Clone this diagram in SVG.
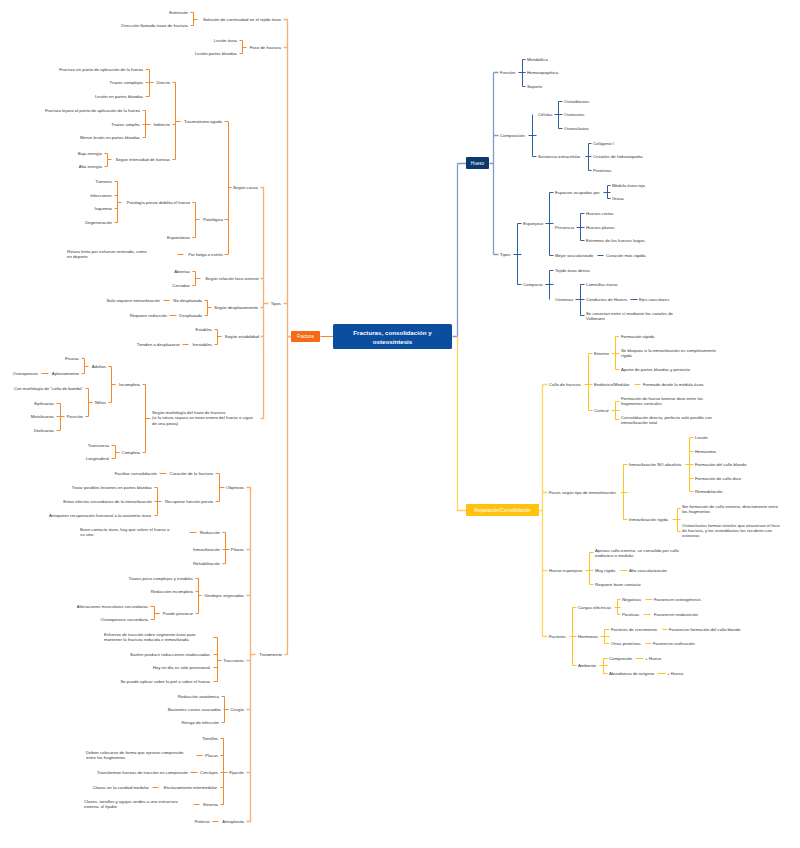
<svg xmlns="http://www.w3.org/2000/svg" width="800" height="848" viewBox="0 0 800 848">
<style>
.t{font-family:"Liberation Sans",Arial,sans-serif;font-size:4.3px;fill:#333}
.e{text-anchor:end}
.w{font-family:"Liberation Sans",Arial,sans-serif;fill:#fff;text-anchor:middle}
.o{stroke:#F7882A;fill:none;stroke-width:1}
.b{stroke:#2F5F9E;fill:none;stroke-width:1}
.y{stroke:#FFC21F;fill:none;stroke-width:1}
.o2{stroke:#F9AE72;fill:none;stroke-width:1.3}
.b2{stroke:#7F9DC8;fill:none;stroke-width:1.3}
.y2{stroke:#FFD35E;fill:none;stroke-width:1.3}
</style>
<rect width="800" height="848" fill="#fff"/>
<g id="connectors" transform="translate(0.5,0.5)">
<path class="o2" d="M287,19V654 M283,19H287 M283,47H287 M283,303H287 M284,654H287 M287,336H291
M260,187H263V418H260 M260,278H263 M260,307H263 M260,336H263 M263,303H268
M246,487H250V821H246 M246,549H250 M246,595H250 M246,660H250 M246,709H250 M246,772H250 M250,654H255"/>
<path class="o" d="M320,336H333
M190,12H193V25H190 M193,19H197
M239,40H242V53H239 M242,47H246
M145,69H149V96H145 M145,82H149 M149,82H153
M142,110H145V137H142 M142,124H150
M104,153H107V166H104 M107,159H111
M172,82H175V159H172 M172,124H175 M175,121H180
M114,181H117V222H114 M114,195H117 M114,208H117 M117,202H121
M192,202H195V237H192 M195,219H199
M177,254H183
M224,121H228V254H224 M224,219H228 M228,187H231
M192,271H195V285H192 M195,278H200
M163,300H169 M169,315H176
M204,300H207V315H204 M207,307H211
M182,344H188
M214,329H217V344H214 M217,336H221
M41,373H48
M81,358H84V373H81 M84,366H88
M56,403H60V430H56 M56,416H64
M85,388H88V416H85 M88,402H92
M108,366H111V402H108 M111,384H115
M111,445H115V458H111 M115,452H119
M142,384H145V452H142 M145,418H150
M159,473H166
M154,487H157V515H154 M154,501H161
M215,473H219V501H215 M219,487H224
M189,532H196
M222,532H225V563H222 M222,549H229
M150,606H154V619H150 M154,613H159
M195,578H198V613H195 M195,591H198 M198,595H201
M213,637H217V681H213 M213,654H217 M213,667H217 M217,660H221
M221,696H224V722H221 M223,709H228
M196,755H202 M190,772H197 M152,787H158 M193,804H199
M220,738H223V804H220 M220,755H223 M220,772H227 M220,787H223
M212,821H218"/>
<path class="b2" d="M452,336H457 M457,163V336 M457,163H466
M489,163H493 M493,72V254 M493,72H498 M493,135H498 M493,254H498"/>
<path class="b" d="M518,72H525 M522,59V86 M522,59H525 M522,86H525
M528,135H536 M532,114V156 M532,156H536
M554,114H562 M558,101V128 M558,101H562 M558,128H562
M585,156H591 M588,143V170 M588,143H591 M588,170H591
M513,254H521 M517,223V284 M517,223H521 M517,284H521
M545,223H553 M549,192V255 M549,192H553 M549,255H553
M603,192H610 M607,185V198 M607,185H610 M607,198H610
M576,227H584 M580,213V240 M580,213H584 M580,240H584
M597,255H603
M545,284H553 M549,270V299 M549,270H553
M575,299H584 M580,284V315 M580,284H584 M580,315H584
M630,299H637"/>
<path class="y2" d="M457,336V510H466
M539,510H542 M542,384V636 M542,384H547 M542,492H547 M542,570H547 M542,636H547"/>
<path class="y" d="M584,384H592 M588,353V410 M588,353H592 M588,410H592
M611,353H619 M615,336V369 M615,336H619 M615,369H619
M634,384H640
M611,410H619 M615,401V419 M615,401H619 M615,419H619
M620,492H627 M623,464V519 M623,464H627 M623,519H627
M685,464H693 M689,437V491 M689,437H693 M689,451H693 M689,478H693 M689,491H693
M672,519H680 M677,508V531 M677,508H680 M677,531H680
M585,570H593 M589,552V584 M589,552H593 M589,584H593
M620,570H627
M569,636H576 M572,607V665 M572,607H576 M572,665H576
M614,607H620 M617,599V614 M617,599H620 M617,614H620
M645,599H652 M643,614H650
M600,636H609 M604,629V643 M604,629H609 M604,643H609
M662,629H667 M645,643H651
M599,665H607 M603,658V673 M603,658H607 M603,673H607
M635,658H643 M657,673H665"/>
</g>
<g id="root"><rect x="333" y="324" width="119" height="25" rx="1.5" fill="#0B4EA0"/><text class="w" x="392.5" y="335" font-size="6.2" font-weight="bold">Fracturas, consolidación y</text><text class="w" x="392.5" y="343.5" font-size="6.2" font-weight="bold">osteosíntesis</text></g>
<g id="fractura"><rect x="291" y="331" width="29" height="11" rx="1" fill="#F56A12"/><text class="w" x="305.5" y="338" font-size="4.5">Fractura</text></g>
<g id="hueso"><rect x="466" y="157" width="23" height="12" rx="1" fill="#0C3A70"/><text class="w" x="477.5" y="164.6" font-size="4.6">Hueso</text></g>
<g id="reparacion"><rect x="466" y="504" width="73" height="12" rx="1" fill="#FFC20E"/><text class="w" x="502.5" y="511.7" font-size="4.8">Reparación/Consolidación</text></g>
<g id="f1"><text class="t e" x="188" y="13.5">Extensión</text></g>
<g id="f2"><text class="t e" x="188" y="26.5">Dirección llamada trazo de fractura</text></g>
<g id="f3"><text class="t e" x="281" y="20.5">Solución de continuidad en el tejido óseo</text></g>
<g id="f4"><text class="t e" x="237" y="41.5">Lesión ósea</text></g>
<g id="f5"><text class="t e" x="237" y="54.5">Lesión partes blandas</text></g>
<g id="f6"><text class="t e" x="281" y="48.5">Foco de fractura</text></g>
<g id="f7"><text class="t e" x="143" y="70.5">Fractura en punto de aplicación de la fuerza</text></g>
<g id="f8"><text class="t e" x="143" y="83.5">Trazos complejos</text></g>
<g id="f9"><text class="t e" x="143" y="97.5">Lesión en partes blandas</text></g>
<g id="f10"><text class="t e" x="170" y="83.5">Directo</text></g>
<g id="f11"><text class="t e" x="140" y="111.5">Fractura lejano al punto de aplicación de la fuerza</text></g>
<g id="f12"><text class="t e" x="140" y="125.5">Trazos simples</text></g>
<g id="f13"><text class="t e" x="140" y="138.5">Menor lesión en partes blandas</text></g>
<g id="f14"><text class="t e" x="170" y="125.5">Indirecto</text></g>
<g id="f15"><text class="t e" x="102" y="154.5">Baja energía</text></g>
<g id="f16"><text class="t e" x="102" y="167.5">Alta energía</text></g>
<g id="f17"><text class="t e" x="170" y="160.5">Según intensidad de fuerzas</text></g>
<g id="f18"><text class="t e" x="222" y="122.5">Traumatismo agudo</text></g>
<g id="f19"><text class="t e" x="112" y="182.5">Tumores</text></g>
<g id="f20"><text class="t e" x="112" y="196.5">Infecciones</text></g>
<g id="f21"><text class="t e" x="112" y="209.5">Isquemia</text></g>
<g id="f22"><text class="t e" x="112" y="223.5">Degeneración</text></g>
<g id="f23"><text class="t e" x="190" y="203.5">Patología previa debilita el hueso</text></g>
<g id="f24"><text class="t e" x="190" y="238.5">Espontánea</text></g>
<g id="f25"><text class="t e" x="223" y="220.5">Patológica</text></g>
<g id="f26"><text class="t" x="67" y="252.5"><tspan x="67">Rotura lenta por esfuerzo reiterado, como</tspan><tspan x="67" dy="5.3">en deporte</tspan></text></g>
<g id="f27"><text class="t e" x="223" y="255.5">Por fatiga o estrés</text></g>
<g id="f28"><text class="t e" x="258" y="188.5">Según causa</text></g>
<g id="f29"><text class="t e" x="190" y="272.5">Abiertas</text></g>
<g id="f30"><text class="t e" x="190" y="286.5">Cerradas</text></g>
<g id="f31"><text class="t e" x="259" y="279.5">Según relación foco-exterior</text></g>
<g id="f32"><text class="t e" x="160" y="301.5">Solo requiere inmovilización</text></g>
<g id="f33"><text class="t e" x="202" y="301.5">No desplazada</text></g>
<g id="f34"><text class="t e" x="167" y="316.5">Requiere reducción</text></g>
<g id="f35"><text class="t e" x="202" y="316.5">Desplazada</text></g>
<g id="f36"><text class="t e" x="258" y="308.5">Según desplazamiento</text></g>
<g id="f37"><text class="t e" x="212" y="330.5">Estables</text></g>
<g id="f38"><text class="t e" x="180" y="345.5">Tienden a desplazarse</text></g>
<g id="f39"><text class="t e" x="212" y="345.5">Inestables</text></g>
<g id="f40"><text class="t e" x="259" y="337.5">Según estabilidad</text></g>
<g id="f41"><text class="t e" x="79" y="359.5">Fisuras</text></g>
<g id="f42"><text class="t e" x="38" y="374.5">Osteoporosis</text></g>
<g id="f43"><text class="t e" x="79" y="374.5">Aplastamiento</text></g>
<g id="f44"><text class="t e" x="106" y="367.5">Adultos</text></g>
<g id="f45"><text class="t e" x="83" y="389.5">Con morfología de "caña de bambú"</text></g>
<g id="f46"><text class="t e" x="54" y="404.5">Epifisarias</text></g>
<g id="f47"><text class="t e" x="54" y="417.5">Metafisarias</text></g>
<g id="f48"><text class="t e" x="54" y="431.5">Diafisarias</text></g>
<g id="f49"><text class="t e" x="83" y="417.5">Posición</text></g>
<g id="f50"><text class="t e" x="106" y="403.5">Niños</text></g>
<g id="f51"><text class="t e" x="140" y="385.5">Incompleta</text></g>
<g id="f52"><text class="t e" x="109" y="446.5">Transversa</text></g>
<g id="f53"><text class="t e" x="109" y="459.5">Longitudinal</text></g>
<g id="f54"><text class="t e" x="140" y="453.5">Completa</text></g>
<g id="f55"><text class="t" x="152" y="413.5"><tspan x="152">Según morfología del trazo de fractura</tspan><tspan x="152" dy="5.5">(si la rotura separa un trozo entero del hueso o sigue</tspan><tspan x="152" dy="5.5">de una pieza)</tspan></text></g>
<g id="f56"><text class="t e" x="281" y="304.5">Tipos</text></g>
<g id="t1"><text class="t e" x="157" y="474.5">Facilitar consolidación</text></g>
<g id="t2"><text class="t e" x="213" y="474.5">Curación de la fractura</text></g>
<g id="t3"><text class="t e" x="152" y="488.5">Tratar posibles lesiones en partes blandas</text></g>
<g id="t4"><text class="t e" x="152" y="502.5">Evitar efectos secundarios de la inmovilización</text></g>
<g id="t5"><text class="t e" x="151" y="516.5">Anteponer recuperación funcional a la anatomía ósea</text></g>
<g id="t6"><text class="t e" x="213" y="502.5">Recuperar función previa</text></g>
<g id="t7"><text class="t e" x="244" y="488.5">Objetivos</text></g>
<g id="t8"><text class="t" x="80" y="530.5"><tspan x="80">Buen contacto óseo, hay que volver el hueso a</tspan><tspan x="80" dy="5.5">su sitio</tspan></text></g>
<g id="t9"><text class="t e" x="220" y="533.5">Reducción</text></g>
<g id="t10"><text class="t e" x="220" y="550.5">Inmovilización</text></g>
<g id="t11"><text class="t e" x="220" y="564.5">Rehabilitación</text></g>
<g id="t12"><text class="t e" x="244" y="550.5">Pilares</text></g>
<g id="t13"><text class="t e" x="193" y="579.5">Trazos poco complejos y estables</text></g>
<g id="t14"><text class="t e" x="193" y="592.5">Reducción incompleta</text></g>
<g id="t15"><text class="t e" x="148" y="607.5">Alteraciones musculares secundarias</text></g>
<g id="t16"><text class="t e" x="148" y="620.5">Osteoporosis secundaria</text></g>
<g id="t17"><text class="t e" x="193" y="614.5">Puede provocar</text></g>
<g id="t18"><text class="t e" x="244" y="596.5">Vendajes enyesados</text></g>
<g id="t19"><text class="t" x="104" y="635.5"><tspan x="104">Esfuerzo de tracción sobre segmento óseo para</tspan><tspan x="104" dy="5.3">mantener la fractura reducida e inmovilizada</tspan></text></g>
<g id="t20"><text class="t e" x="210" y="655.5">Suelen producir reducciones inadecuadas</text></g>
<g id="t21"><text class="t e" x="210" y="668.5">Hoy en día es sólo provisional</text></g>
<g id="t22"><text class="t e" x="210" y="682.5">Se puede aplicar sobre la piel o sobre el hueso</text></g>
<g id="t23"><text class="t e" x="244" y="661.5">Tracciones</text></g>
<g id="t24"><text class="t e" x="282" y="655.5">Tratamiento</text></g>
<g id="t25"><text class="t e" x="219" y="697.5">Reducción anatómica</text></g>
<g id="t26"><text class="t e" x="221" y="710.5">Bastantes costes asociados</text></g>
<g id="t27"><text class="t e" x="219" y="723.5">Riesgo de infección</text></g>
<g id="t28"><text class="t e" x="244" y="710.5">Cirugía</text></g>
<g id="t29"><text class="t e" x="218" y="739.5">Tornillos</text></g>
<g id="t30"><text class="t" x="86" y="753.5"><tspan x="86">Deben colocarse de forma que ejerzan compresión</tspan><tspan x="86" dy="5.3">entre los fragmentos</tspan></text></g>
<g id="t31"><text class="t e" x="218" y="756.5">Placas</text></g>
<g id="t32"><text class="t e" x="188" y="773.5">Transforman fuerzas de tracción en compresión</text></g>
<g id="t33"><text class="t e" x="218" y="773.5">Cerclajes</text></g>
<g id="t34"><text class="t e" x="149" y="788.5">Clavos en la cavidad medular</text></g>
<g id="t35"><text class="t e" x="217" y="788.5">Enclavamiento intermedular</text></g>
<g id="t36"><text class="t" x="84" y="802.5"><tspan x="84">Clavos, tornillos y agujas unidos a una estructura</tspan><tspan x="84" dy="5.3">externa, el fijador</tspan></text></g>
<g id="t37"><text class="t e" x="218" y="805.5">Externa</text></g>
<g id="t38"><text class="t e" x="244" y="773.5">Fijación</text></g>
<g id="t39"><text class="t e" x="210" y="822.5">Prótesis</text></g>
<g id="t40"><text class="t e" x="244" y="822.5">Artroplastia</text></g>
<g id="h1"><text class="t" x="500" y="73.5">Función</text></g>
<g id="h2"><text class="t" x="527" y="60.5">Metabólica</text></g>
<g id="h3"><text class="t" x="527" y="73.5">Hematopoyética</text></g>
<g id="h4"><text class="t" x="527" y="87.5">Soporte</text></g>
<g id="h5"><text class="t" x="500" y="136.5">Composición</text></g>
<g id="h6"><text class="t" x="538" y="115.5">Células</text></g>
<g id="h7"><text class="t" x="564" y="102.5">Osteoblastos</text></g>
<g id="h8"><text class="t" x="564" y="115.5">Osteocitos</text></g>
<g id="h9"><text class="t" x="564" y="129.5">Osteoclastos</text></g>
<g id="h10"><text class="t" x="538" y="157.5">Sustancia extracelular</text></g>
<g id="h11"><text class="t" x="593" y="144.5">Colágeno I</text></g>
<g id="h12"><text class="t" x="593" y="157.5">Cristales de hidroxiapatita</text></g>
<g id="h13"><text class="t" x="593" y="171.5">Proteínas</text></g>
<g id="h14"><text class="t" x="500" y="255.5">Tipos</text></g>
<g id="h15"><text class="t" x="523" y="224.5">Esponjoso</text></g>
<g id="h16"><text class="t" x="555" y="193.5">Espacios ocupados por</text></g>
<g id="h17"><text class="t" x="612" y="186.5">Médula ósea roja</text></g>
<g id="h18"><text class="t" x="612" y="199.5">Grasa</text></g>
<g id="h19"><text class="t" x="555" y="228.5">Presencia</text></g>
<g id="h20"><text class="t" x="586" y="214.5">Huesos cortos</text></g>
<g id="h21"><text class="t" x="586" y="228.5">Huesos planos</text></g>
<g id="h22"><text class="t" x="586" y="241.5">Extremos de los huesos largos</text></g>
<g id="h23"><text class="t" x="555" y="256.5">Mejor vascularizado</text></g>
<g id="h24"><text class="t" x="606" y="256.5">Curación más rápida</text></g>
<g id="h25"><text class="t" x="523" y="285.5">Compacto</text></g>
<g id="h26"><text class="t" x="555" y="271.5">Tejido óseo denso</text></g>
<g id="h27"><text class="t" x="555" y="300.5">Osteonas</text></g>
<g id="h28"><text class="t" x="586" y="285.5">Laminillas óseas</text></g>
<g id="h29"><text class="t" x="586" y="300.5">Conductos de Havers</text></g>
<g id="h30"><text class="t" x="639" y="300.5">Ejes vasculares</text></g>
<g id="h31"><text class="t" x="586" y="314.5"><tspan x="586">Se conectan entre sí mediante los canales de</tspan><tspan x="586" dy="5.3">Volkmann</tspan></text></g>
<g id="r1"><text class="t" x="549" y="385.5">Callo de fractura</text></g>
<g id="r2"><text class="t" x="594" y="354.5">Externo</text></g>
<g id="r3"><text class="t" x="621" y="337.5">Formación rápida</text></g>
<g id="r4"><text class="t" x="621" y="351.5"><tspan x="621">Se bloquea si la inmovilización es completamente</tspan><tspan x="621" dy="5.3">rígida</tspan></text></g>
<g id="r5"><text class="t" x="621" y="370.5">Aporte de partes blandas y periostio</text></g>
<g id="r6"><text class="t" x="594" y="385.5">Endóstico/Medular</text></g>
<g id="r7"><text class="t" x="643" y="385.5">Formado desde la médula ósea</text></g>
<g id="r8"><text class="t" x="594" y="411.5">Cortical</text></g>
<g id="r9"><text class="t" x="621" y="399.5"><tspan x="621">Formación de hueso laminar duro entre los</tspan><tspan x="621" dy="5.3">fragmentos corticales</tspan></text></g>
<g id="r10"><text class="t" x="621" y="418.5"><tspan x="621">Consolidación directa, perfecta solo posible con</tspan><tspan x="621" dy="5.3">inmovilización total</tspan></text></g>
<g id="r11"><text class="t" x="549" y="493.5">Fases según tipo de inmovilización</text></g>
<g id="r12"><text class="t" x="629" y="465.5">Inmovilización NO absoluta</text></g>
<g id="r13"><text class="t" x="695" y="438.5">Lesión</text></g>
<g id="r14"><text class="t" x="695" y="452.5">Hematoma</text></g>
<g id="r15"><text class="t" x="695" y="465.5">Formación del callo blando</text></g>
<g id="r16"><text class="t" x="695" y="479.5">Formación de callo duro</text></g>
<g id="r17"><text class="t" x="695" y="492.5">Remodelación</text></g>
<g id="r18"><text class="t" x="629" y="520.5">Inmovilización rígida</text></g>
<g id="r19"><text class="t" x="682" y="507.5"><tspan x="682">Sin formación de callo externo, directamente entre</tspan><tspan x="682" dy="5.3">los fragmentos</tspan></text></g>
<g id="r20"><text class="t" x="682" y="526.5"><tspan x="682">Osteoclastos forman túneles que atraviesan el foco</tspan><tspan x="682" dy="5.3">de fractura, y los osteoblastos los recubren con</tspan><tspan x="682" dy="5.3">osteonas</tspan></text></g>
<g id="r21"><text class="t" x="549" y="571.5">Hueso esponjoso</text></g>
<g id="r22"><text class="t" x="595" y="551.5"><tspan x="595">Apenas callo externo, se consolida por callo</tspan><tspan x="595" dy="5.3">endóstico o medular</tspan></text></g>
<g id="r23"><text class="t" x="595" y="571.5">Muy rígida</text></g>
<g id="r24"><text class="t" x="629" y="571.5">Alta vascularización</text></g>
<g id="r25"><text class="t" x="595" y="585.5">Requiere buen contacto</text></g>
<g id="r26"><text class="t" x="549" y="637.5">Factores</text></g>
<g id="r27"><text class="t" x="578" y="608.5">Cargas eléctricas</text></g>
<g id="r28"><text class="t" x="622" y="600.5">Negativas</text></g>
<g id="r29"><text class="t" x="654" y="600.5">Favorecen osteogénesis</text></g>
<g id="r30"><text class="t" x="622" y="615.5">Positivas</text></g>
<g id="r31"><text class="t" x="654" y="615.5">Favorecen reabsorción</text></g>
<g id="r32"><text class="t" x="578" y="637.5">Hormonas</text></g>
<g id="r33"><text class="t" x="611" y="630.5">Factores de crecimiento</text></g>
<g id="r34"><text class="t" x="669" y="630.5">Favorecen formación del callo blando</text></g>
<g id="r35"><text class="t" x="611" y="644.5">Otras proteínas</text></g>
<g id="r36"><text class="t" x="653" y="644.5">Favorecen osificación</text></g>
<g id="r37"><text class="t" x="578" y="666.5">Ambiente</text></g>
<g id="r38"><text class="t" x="609" y="659.5">Compresión</text></g>
<g id="r39"><text class="t" x="645" y="659.5">+ Hueso</text></g>
<g id="r40"><text class="t" x="609" y="674.5">Abundancia de oxígeno</text></g>
<g id="r41"><text class="t" x="667" y="674.5">+ Hueso</text></g>
</svg>
